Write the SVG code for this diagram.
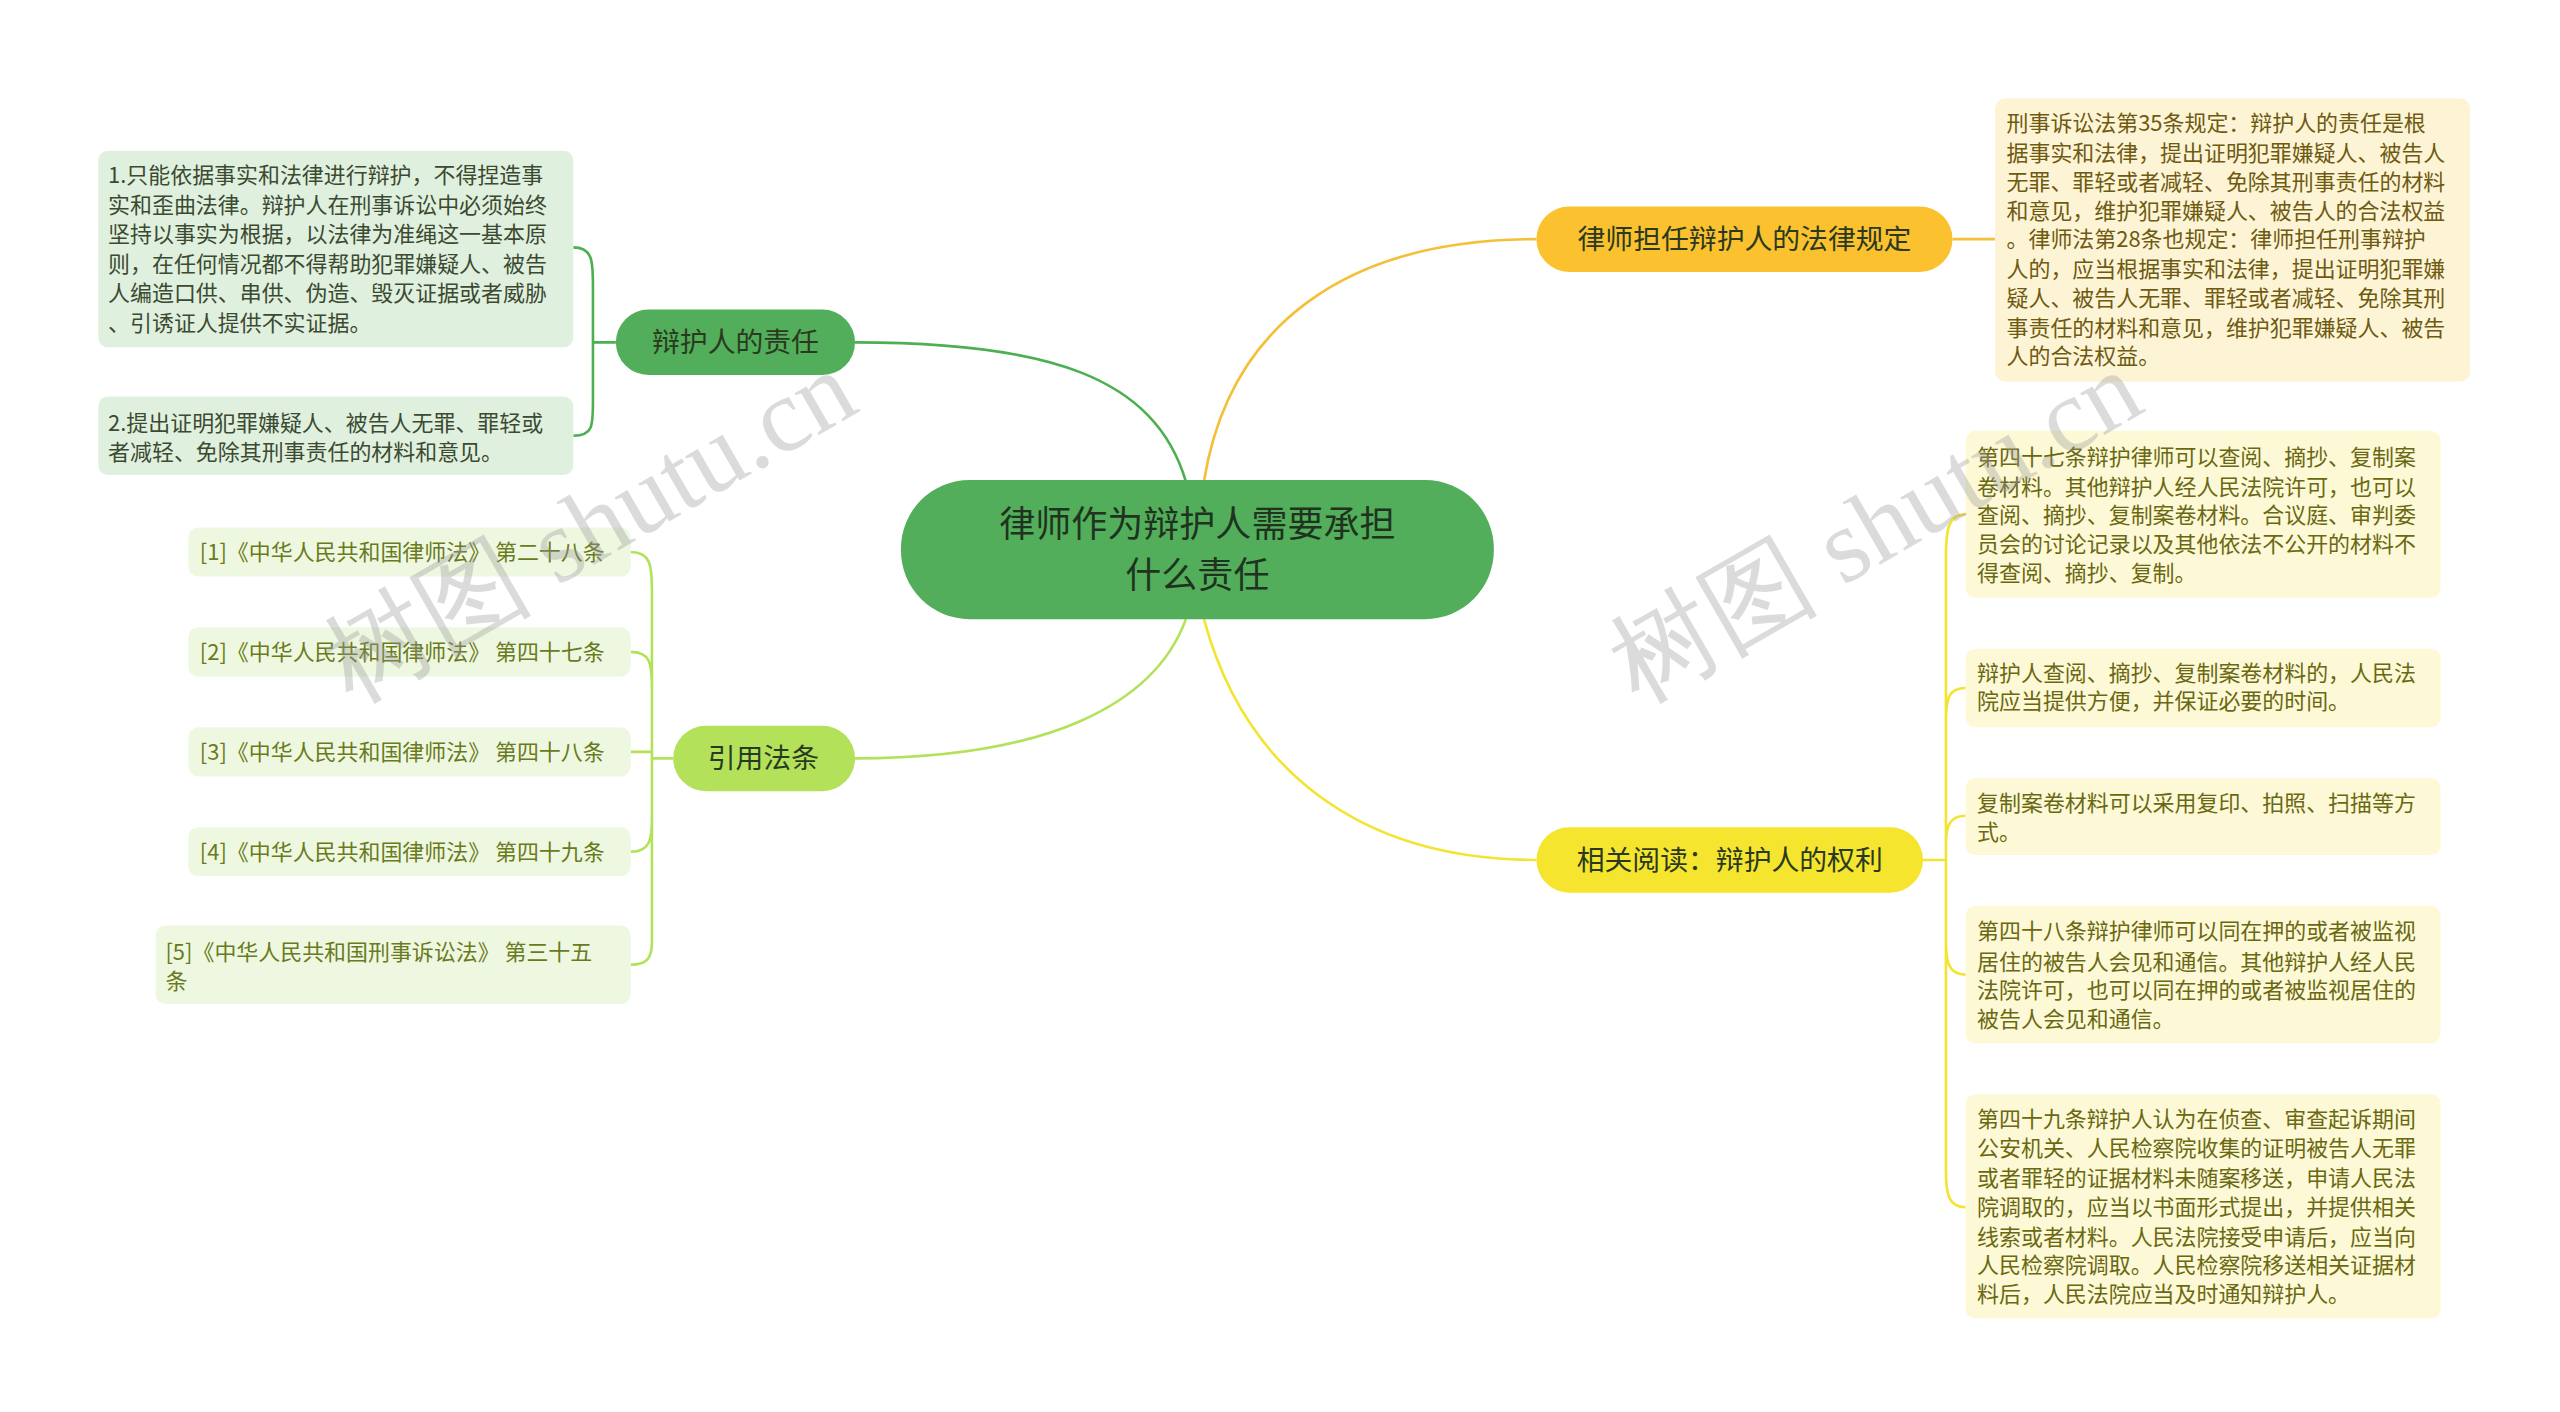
<svg xmlns="http://www.w3.org/2000/svg" width="2560" height="1412" viewBox="0 0 2560 1412">
<style>
text{font-family:"Noto Sans CJK SC","Noto Sans",sans-serif}
.t{font-size:13.4px}
.n{font-size:17px;fill:#2a3a20;text-anchor:middle}
.g{fill:#6a7a20}
.r{fill:#6e5a10}
.y{fill:#6a6812}
.c{fill:none;stroke-width:1.6}
.wm{font-family:"Liberation Serif",serif;font-size:64px;fill:#999;opacity:0.35}
</style>
<rect width="2560" height="1412" fill="#fff"/>
<g transform="scale(1.638)">
<g id="connectors">
<path class="c" stroke="#4caf50" stroke-width="2" d="M724,294 C705,230 640,209 522,209"/>
<path class="c" stroke="#f4c03a" stroke-width="2" d="M735,294 C750,200 820,146 938,146"/>
<path class="c" stroke="#b3e25a" stroke-width="2" d="M724,378 C705,430 640,463 522,463"/>
<path class="c" stroke="#f3e433" stroke-width="2" d="M735,378 C760,470 830,525 938,525"/>
<path class="c" stroke="#4caf50" d="M376,209 H362 M350,151 C362,151 362,160 362,175 V245 C362,260 362,266 350,266"/>
<path class="c" stroke="#b3e25a" d="M411,463 H398 M385,337 C397,337 398,345 398,360 V575 C398,585 395,589 385,589 M385,398 C397,398 398,405 398,420 M385,459 H398 M385,520 C397,520 398,512 398,500"/>
<path class="c" stroke="#f4c03a" d="M1192,146 H1218"/>
<path class="c" stroke="#f3e433" d="M1174,525 H1188 M1200,314 C1190,314 1188,322 1188,340 V715 C1188,730 1190,737 1200,737 M1200,420 C1190,420 1188,426 1188,440 M1200,498 C1190,498 1188,505 1188,515 M1200,595 C1190,595 1188,588 1188,575"/>
</g>
<g id="center"><rect x="550" y="293" width="362" height="85" rx="42" fill="#52ae5a"/>
<text x="731" y="328" font-size="22" fill="#1f3320" text-anchor="middle">律师作为辩护人需要承担</text>
<text x="731" y="359" font-size="22" fill="#1f3320" text-anchor="middle">什么责任</text></g>
<g id="n1"><rect x="376" y="189" width="146" height="40" rx="20" fill="#52ae5a"/><text class="n" x="449" y="215">辩护人的责任</text></g>
<g id="n1a"><rect x="60" y="92" width="290" height="120" rx="6" fill="#e0f0df"/>
<text class="t" style="fill:#3b4a30"><tspan x="66" y="112">1.只能依据事实和法律进行辩护，不得捏造事</tspan><tspan x="66" y="130">实和歪曲法律。辩护人在刑事诉讼中必须始终</tspan><tspan x="66" y="148">坚持以事实为根据，以法律为准绳这一基本原</tspan><tspan x="66" y="166">则，在任何情况都不得帮助犯罪嫌疑人、被告</tspan><tspan x="66" y="184">人编造口供、串供、伪造、毁灭证据或者威胁</tspan><tspan x="66" y="202">、引诱证人提供不实证据。</tspan></text></g>
<g id="n1b"><rect x="60" y="242" width="290" height="48" rx="6" fill="#e0f0df"/>
<text class="t" style="fill:#3b4a30"><tspan x="66" y="263">2.提出证明犯罪嫌疑人、被告人无罪、罪轻或</tspan><tspan x="66" y="281">者减轻、免除其刑事责任的材料和意见。</tspan></text></g>
<g id="n2"><rect x="411" y="443" width="111" height="40" rx="20" fill="#b3e25a"/><text class="n" x="466" y="469">引用法条</text></g>
<g id="r1"><rect x="115" y="322" width="270" height="30" rx="6" fill="#eef8e0"/><text class="t g" x="122" y="342">[1]《中华人民共和国律师法》 第二十八条</text></g>
<g id="r2"><rect x="115" y="383" width="270" height="30" rx="6" fill="#eef8e0"/><text class="t g" x="122" y="403">[2]《中华人民共和国律师法》 第四十七条</text></g>
<g id="r3"><rect x="115" y="444" width="270" height="30" rx="6" fill="#eef8e0"/><text class="t g" x="122" y="464">[3]《中华人民共和国律师法》 第四十八条</text></g>
<g id="r4"><rect x="115" y="505" width="270" height="30" rx="6" fill="#eef8e0"/><text class="t g" x="122" y="525">[4]《中华人民共和国律师法》 第四十九条</text></g>
<g id="r5"><rect x="95" y="565" width="290" height="48" rx="6" fill="#eef8e0"/><text class="t g"><tspan x="101" y="586">[5]《中华人民共和国刑事诉讼法》 第三十五</tspan><tspan x="101" y="604">条</tspan></text></g>
<g id="n3"><rect x="938" y="126" width="254" height="40" rx="20" fill="#fbc12e"/><text class="n" x="1065" y="152">律师担任辩护人的法律规定</text></g>
<g id="n3a"><rect x="1218" y="60" width="290" height="173" rx="6" fill="#fdf4d6"/>
<text class="t r"><tspan x="1225" y="80">刑事诉讼法第35条规定：辩护人的责任是根</tspan><tspan x="1225" y="98">据事实和法律，提出证明犯罪嫌疑人、被告人</tspan><tspan x="1225" y="116">无罪、罪轻或者减轻、免除其刑事责任的材料</tspan><tspan x="1225" y="134">和意见，维护犯罪嫌疑人、被告人的合法权益</tspan><tspan x="1225" y="151">。律师法第28条也规定：律师担任刑事辩护</tspan><tspan x="1225" y="169">人的，应当根据事实和法律，提出证明犯罪嫌</tspan><tspan x="1225" y="187">疑人、被告人无罪、罪轻或者减轻、免除其刑</tspan><tspan x="1225" y="205">事责任的材料和意见，维护犯罪嫌疑人、被告</tspan><tspan x="1225" y="222">人的合法权益。</tspan></text></g>
<g id="n4"><rect x="938" y="505" width="236" height="40" rx="20" fill="#f5e52e"/><text class="n" x="1056" y="531">相关阅读：辩护人的权利</text></g>
<g id="n4a"><rect x="1200" y="263" width="290" height="102" rx="6" fill="#fdf9d6"/>
<text class="t y"><tspan x="1207" y="284">第四十七条辩护律师可以查阅、摘抄、复制案</tspan><tspan x="1207" y="302">卷材料。其他辩护人经人民法院许可，也可以</tspan><tspan x="1207" y="319">查阅、摘抄、复制案卷材料。合议庭、审判委</tspan><tspan x="1207" y="337">员会的讨论记录以及其他依法不公开的材料不</tspan><tspan x="1207" y="355">得查阅、摘抄、复制。</tspan></text></g>
<g id="n4b"><rect x="1200" y="396" width="290" height="48" rx="6" fill="#fdf9d6"/>
<text class="t y"><tspan x="1207" y="416">辩护人查阅、摘抄、复制案卷材料的，人民法</tspan><tspan x="1207" y="433">院应当提供方便，并保证必要的时间。</tspan></text></g>
<g id="n4c"><rect x="1200" y="475" width="290" height="47" rx="6" fill="#fdf9d6"/>
<text class="t y"><tspan x="1207" y="495">复制案卷材料可以采用复印、拍照、扫描等方</tspan><tspan x="1207" y="513">式。</tspan></text></g>
<g id="n4d"><rect x="1200" y="553" width="290" height="84" rx="6" fill="#fdf9d6"/>
<text class="t y"><tspan x="1207" y="573">第四十八条辩护律师可以同在押的或者被监视</tspan><tspan x="1207" y="592">居住的被告人会见和通信。其他辩护人经人民</tspan><tspan x="1207" y="609">法院许可，也可以同在押的或者被监视居住的</tspan><tspan x="1207" y="627">被告人会见和通信。</tspan></text></g>
<g id="n4e"><rect x="1200" y="668" width="290" height="137" rx="6" fill="#fdf9d6"/>
<text class="t y"><tspan x="1207" y="688">第四十九条辩护人认为在侦查、审查起诉期间</tspan><tspan x="1207" y="706">公安机关、人民检察院收集的证明被告人无罪</tspan><tspan x="1207" y="724">或者罪轻的证据材料未随案移送，申请人民法</tspan><tspan x="1207" y="742">院调取的，应当以书面形式提出，并提供相关</tspan><tspan x="1207" y="760">线索或者材料。人民法院接受申请后，应当向</tspan><tspan x="1207" y="777">人民检察院调取。人民检察院移送相关证据材</tspan><tspan x="1207" y="795">料后，人民法院应当及时通知辩护人。</tspan></text></g>
<g id="watermarks">
<text class="wm" transform="translate(215,430) rotate(-30)">树图 shutu.cn</text>
<text class="wm" transform="translate(1000,430) rotate(-30)">树图 shutu.cn</text>
</g>
</g>
</svg>
